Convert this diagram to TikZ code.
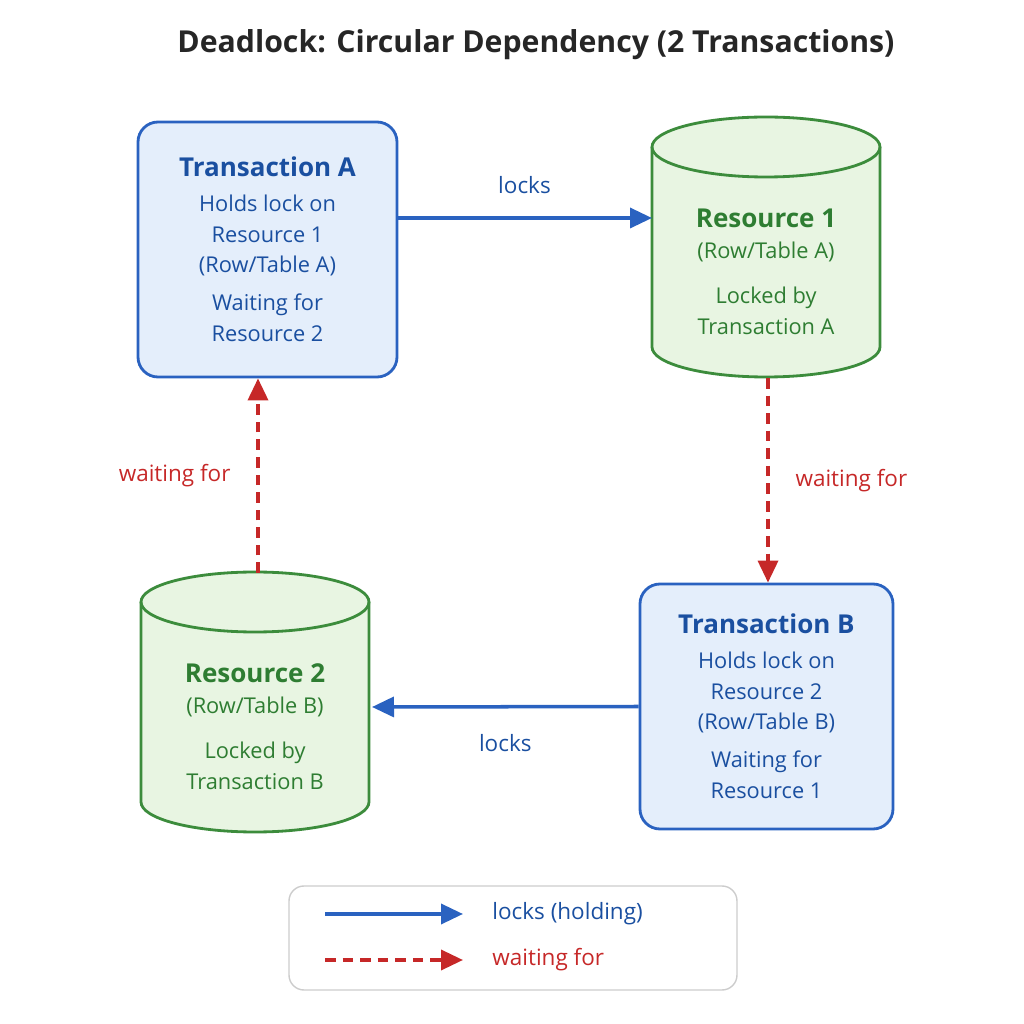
\documentclass[tikz,border=0pt]{standalone}
\usepackage{fontspec}
\setmainfont{Open Sans}
\usetikzlibrary{shapes.geometric,arrows.meta,positioning}
\definecolor{txblue}{HTML}{1A4FA0}
\definecolor{lnblue}{HTML}{2A62C0}
\definecolor{fillblue}{HTML}{E4EEFB}
\definecolor{resgreen}{HTML}{2E7D32}
\definecolor{lngreen}{HTML}{3C8C3C}
\definecolor{fillgreen}{HTML}{E8F5E2}
\definecolor{waitred}{HTML}{C62828}
\tikzset{
  trans/.style={rectangle, draw=lnblue, fill=fillblue, line width=0.8pt, rounded corners=2mm, minimum width=2.59cm, minimum height=2.55cm, align=center, text=txblue, font=\fontsize{6.2}{8.8}\selectfont},
  restext/.style={align=center, text=resgreen, font=\fontsize{6.2}{8.8}\selectfont},
  resdb/.pic={
    \path [draw=lngreen, fill=fillgreen, line width=0.8pt] (-1.14,1.0) -- (-1.14,-1.0)
      arc[start angle=180, end angle=360, x radius=1.14, y radius=0.3] -- (1.14,1.0)
      arc[start angle=0, end angle=180, x radius=1.14, y radius=0.3] -- cycle;
    \draw [lngreen, line width=0.8pt] (-1.14,1.0) arc[start angle=180, end angle=360, x radius=1.14, y radius=0.3];
  },
  lockline/.style={draw=lnblue, line width=1pt, -{Triangle[length=2.2mm,width=2mm]}},
  waitline/.style={draw=waitred, line width=1pt, dash pattern=on 3pt off 2pt, -{Triangle[length=2.2mm,width=2mm]}},
  lbl/.style={font=\fontsize{6.4}{8}\selectfont}
}
\begin{document}
\begin{tikzpicture}
    \useasboundingbox (0,0) rectangle (10.24,10.24);
    \node [font=\bfseries\fontsize{8.6}{10}\selectfont, text=black!85] (title) at (5.36,9.79) {Deadlock: Circular Dependency (2 Transactions)};
    \node [trans] (tA) at (2.675,7.745) {{\bfseries\fontsize{7.4}{10}\selectfont Transaction A}\\[1pt]Holds lock on\\Resource 1\\(Row/Table A)\\[2pt]Waiting for\\Resource 2};
    \pic at (7.66,7.77) {resdb};
    \node [restext] (r1) at (7.66,7.52) {{\bfseries\fontsize{7.4}{10}\selectfont Resource 1}\\(Row/Table A)\\[4pt]Locked by\\Transaction A};
    \pic at (2.55,3.22) {resdb};
    \node [restext] (r2) at (2.55,2.97) {{\bfseries\fontsize{7.4}{10}\selectfont Resource 2}\\(Row/Table B)\\[4pt]Locked by\\Transaction B};
    \node [trans, minimum width=2.53cm, minimum height=2.45cm] (tB) at (7.665,3.175) {{\bfseries\fontsize{7.4}{10}\selectfont Transaction B}\\[1pt]Holds lock on\\Resource 2\\(Row/Table B)\\[2pt]Waiting for\\Resource 1};
    \coordinate (aout) at (3.97,8.06);
    \coordinate (r1in) at (6.52,8.06);
    \coordinate (r1out) at (7.68,6.46);
    \coordinate (r2in) at (3.72,3.17);
    \coordinate (r2out) at (2.58,4.51);
    \path [lockline] (aout) -- node[lbl, text=txblue, above=3pt]{locks} (r1in);
    \path [waitline] (r1out) -- node[lbl, text=waitred, right=4pt]{waiting for} (tB.north -| r1out);
    \path [lockline] (tB.west) -- node[lbl, text=txblue, below=4pt]{locks} (r2in);
    \path [waitline] (r2out) -- node[lbl, text=waitred, left=4pt]{waiting for} (tA.south -| r2out);
    % legend
    \node [draw=black!20, rounded corners=1.5mm, minimum width=4.48cm, minimum height=1.04cm] (legend) at (5.13,0.86) {};
    \coordinate (l1a) at (3.25,1.10);
    \coordinate (l1b) at (4.63,1.10);
    \coordinate (l2a) at (3.25,0.64);
    \coordinate (l2b) at (4.63,0.64);
    \path [lockline] (l1a) -- (l1b);
    \path [waitline] (l2a) -- (l2b);
    \node [lbl, text=txblue, anchor=west] (lg1) at (4.80,1.10) {locks (holding)};
    \node [lbl, text=waitred, anchor=west] (lg2) at (4.80,0.64) {waiting for};
\end{tikzpicture}
\end{document}
